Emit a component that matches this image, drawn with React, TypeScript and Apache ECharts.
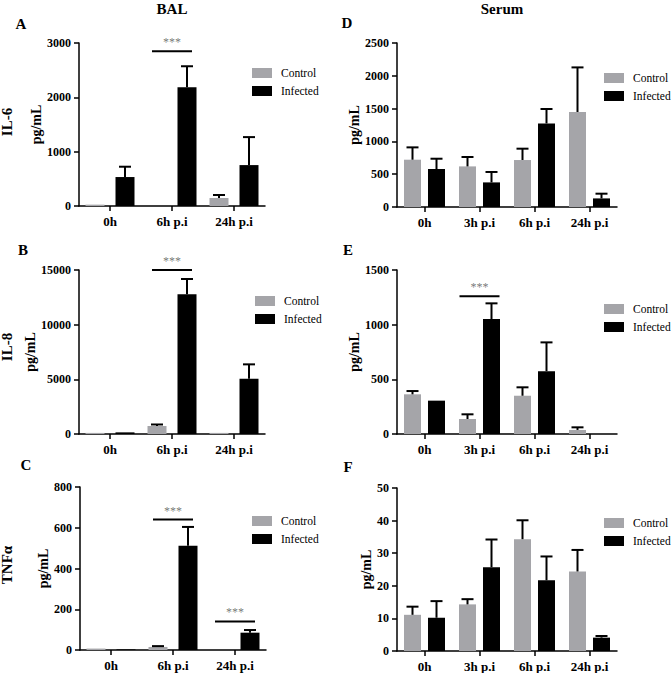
import React, { useEffect, useRef } from "react";
import * as echarts from "echarts";

const FONT = "'Liberation Serif', 'Times New Roman', serif";
const GRAY = "#a5a5a9";
const STAR = "#555555";

// ---- categories ----
const balCategories = ["0h", "6h p.i", "24h p.i"];
const serumCategories = ["0h", "3h p.i", "6h p.i", "24h p.i"];

// ---- BAL IL-6 (A) ----
const il6Control = [25, 0, 147];
const il6ControlErr = [25, 0, 202];
const il6Infected = [533, 2186, 753];
const il6InfectedErr = [723, 2572, 1268];

// ---- BAL IL-8 (B) ----
const il8Control = [100, 730, 100];
const il8ControlErr = [100, 870, 100];
const il8Infected = [150, 12775, 5060];
const il8InfectedErr = [150, 14177, 6370];

// ---- BAL TNFa (C) ----
const tnfControl = [7, 15, 0];
const tnfControlErr = [7, 19, 0];
const tnfInfected = [3, 512, 85];
const tnfInfectedErr = [3, 604, 98];

// ---- Serum IL-6 (D) ----
const sIl6Control = [721, 619, 716, 1448];
const sIl6ControlErr = [909, 762, 889, 2128];
const sIl6Infected = [579, 375, 1274, 131];
const sIl6InfectedErr = [736, 534, 1494, 203];

// ---- Serum IL-8 (E) ----
const sIl8Control = [363, 137, 350, 37];
const sIl8ControlErr = [393, 180, 427, 61];
const sIl8Infected = [305, 1052, 575, 0];
const sIl8InfectedErr = [305, 1195, 838, 0];

// ---- Serum TNFa (F) ----
const sTnfControl = [11.1, 14.3, 34.3, 24.4];
const sTnfControlErr = [13.6, 15.9, 40.1, 31.0];
const sTnfInfected = [10.2, 25.7, 21.7, 4.1];
const sTnfInfectedErr = [15.3, 34.2, 29.0, 4.6];

// ---- significance markers: [category index, level] ----
const sigA = [[1, 2850]];
const sigB = [[1, 15000]];
const sigC = [[1, 640], [2, 140]];
const sigD: number[][] = [];
const sigE = [[1, 1260]];
const sigF: number[][] = [];

// ---- y axis ranges ----
const yMax = [3000, 15000, 800, 2500, 1500, 50];
const yInterval = [1000, 5000, 200, 500, 500, 10];

const panels = [
  { cats: balCategories, c: il6Control, ce: il6ControlErr, i: il6Infected, ie: il6InfectedErr, sig: sigA,
    grid: { left: 79, top: 43, width: 186, height: 163 }, barW: 19, off: 15, nameGap: 32, legend: { left: 252, top: 67 } },
  { cats: balCategories, c: il8Control, ce: il8ControlErr, i: il8Infected, ie: il8InfectedErr, sig: sigB,
    grid: { left: 79, top: 270, width: 186, height: 164 }, barW: 19, off: 15, nameGap: 34, legend: { left: 255, top: 295 } },
  { cats: balCategories, c: tnfControl, ce: tnfControlErr, i: tnfInfected, ie: tnfInfectedErr, sig: sigC,
    grid: { left: 80, top: 487, width: 186, height: 163 }, barW: 19, off: 15, nameGap: 27, legend: { left: 252, top: 515 } },
  { cats: serumCategories, c: sIl6Control, ce: sIl6ControlErr, i: sIl6Infected, ie: sIl6InfectedErr, sig: sigD,
    grid: { left: 397, top: 43, width: 220, height: 164 }, barW: 17, off: 12, nameGap: 32, legend: { left: 604, top: 72 } },
  { cats: serumCategories, c: sIl8Control, ce: sIl8ControlErr, i: sIl8Infected, ie: sIl8InfectedErr, sig: sigE,
    grid: { left: 397, top: 270, width: 220, height: 164 }, barW: 17, off: 12, nameGap: 30, legend: { left: 604, top: 303 } },
  { cats: serumCategories, c: sTnfControl, ce: sTnfControlErr, i: sTnfInfected, ie: sTnfInfectedErr, sig: sigF,
    grid: { left: 397, top: 488, width: 220, height: 163 }, barW: 17, off: 12, nameGap: 20, legend: { left: 604, top: 517 } },
];

function errRender(offset: number, capHalf: number) {
  return (_params: any, api: any) => {
    const cat = api.value(0);
    const val = api.value(1);
    const hi = api.value(2);
    if (!(hi > val)) return { type: "group", children: [] };
    const p0 = api.coord([cat, val]);
    const p1 = api.coord([cat, hi]);
    const x = p0[0] + offset;
    const st = { stroke: "#000", lineWidth: 2 };
    return {
      type: "group",
      children: [
        { type: "line", shape: { x1: x, y1: p0[1], x2: x, y2: p1[1] }, style: st },
        { type: "line", shape: { x1: x - capHalf, y1: p1[1], x2: x + capHalf, y2: p1[1] }, style: st },
      ],
    };
  };
}

function sigLineRender() {
  return (_params: any, api: any) => {
    const p = api.coord([api.value(0), api.value(1)]);
    return {
      type: "line",
      shape: { x1: p[0] - 20, y1: p[1], x2: p[0] + 20, y2: p[1] },
      style: { stroke: "#000", lineWidth: 2 },
    };
  };
}

function buildOption() {
  const grid: any[] = [];
  const xAxis: any[] = [];
  const yAxis: any[] = [];
  const series: any[] = [];
  const legend: any[] = [];
  const axisLineStyle = { color: "#000", width: 1.5 };

  panels.forEach((p, k) => {
    grid.push({ ...p.grid, containLabel: false });
    xAxis.push({
      type: "category", gridIndex: k, data: p.cats,
      axisLine: { show: true, lineStyle: axisLineStyle },
      axisTick: { show: true, alignWithLabel: true, length: 5, lineStyle: axisLineStyle },
      axisLabel: { fontFamily: FONT, fontWeight: "bold", fontSize: 13, color: "#000", margin: 9 },
      splitLine: { show: false },
    });
    yAxis.push({
      type: "value", gridIndex: k, min: 0, max: yMax[k], interval: yInterval[k],
      name: "pg/mL", nameLocation: "middle", nameGap: p.nameGap,
      nameTextStyle: { fontFamily: FONT, fontWeight: "bold", fontSize: 14, color: "#000" },
      axisLine: { show: true, lineStyle: axisLineStyle },
      axisTick: { show: true, length: 5, lineStyle: axisLineStyle },
      axisLabel: {
        fontFamily: FONT, fontWeight: "bold", fontSize: 12, color: "#000", margin: 8,
        formatter: (v: number) => String(v),
      },
      splitLine: { show: false },
    });
    const gap = ((2 * p.off - p.barW) / p.barW) * 100 + "%";
    series.push({
      name: "Control", type: "bar", xAxisIndex: k, yAxisIndex: k, data: p.c,
      barWidth: p.barW, barGap: gap, itemStyle: { color: GRAY },
    });
    series.push({
      name: "Infected", type: "bar", xAxisIndex: k, yAxisIndex: k, data: p.i,
      barWidth: p.barW, barGap: gap, itemStyle: { color: "#000" },
    });
    series.push({
      name: "errC" + k, type: "custom", xAxisIndex: k, yAxisIndex: k, z: 5,
      itemStyle: { color: "#000" },
      data: p.c.map((v, j) => [j, v, p.ce[j]]),
      encode: { x: 0, y: 1 }, renderItem: errRender(-p.off, 6),
    });
    series.push({
      name: "errI" + k, type: "custom", xAxisIndex: k, yAxisIndex: k, z: 5,
      itemStyle: { color: "#000" },
      data: p.i.map((v, j) => [j, v, p.ie[j]]),
      encode: { x: 0, y: 1 }, renderItem: errRender(p.off, 6),
    });
    if (p.sig.length) {
      series.push({
        name: "sigLine" + k, type: "custom", xAxisIndex: k, yAxisIndex: k, z: 6,
        itemStyle: { color: "#000" },
        data: p.sig, encode: { x: 0, y: 1 }, renderItem: sigLineRender(), clip: false,
      });
      series.push({
        name: "sigStar" + k, type: "scatter", xAxisIndex: k, yAxisIndex: k, z: 6,
        data: p.sig, symbolSize: 0, itemStyle: { color: STAR }, silent: true,
        label: {
          show: true, position: "top", distance: 3, formatter: "***",
          color: STAR, fontFamily: FONT, fontSize: 12,
        },
      });
    }
    legend.push({
      orient: "vertical", left: p.legend.left, top: p.legend.top, padding: 0,
      itemWidth: 20, itemHeight: 10, itemGap: 6, icon: "rect", selectedMode: false,
      data: ["Control", "Infected"],
      textStyle: { fontFamily: FONT, fontSize: 11.5, color: "#000", padding: [0, 0, 0, 4] },
    });
  });

  const bold = (t: string, x: number, y: number, rot = 0, size = 15) => ({
    type: "text", x, y, rotation: rot,
    style: {
      text: t, fontFamily: FONT, fontWeight: "bold", fontSize: size, fill: "#000",
      align: "center", verticalAlign: "middle",
    },
  });

  const graphic = [
    bold("BAL", 172, 9),
    bold("Serum", 502, 9),
    bold("A", 21, 24),
    bold("B", 23, 250),
    bold("C", 26, 465),
    bold("D", 347, 23),
    bold("E", 348, 250),
    bold("F", 348, 467),
    bold("IL-6", 7, 122, Math.PI / 2),
    bold("IL-8", 7, 347, Math.PI / 2),
    bold("TNFα", 7, 565, Math.PI / 2),
  ];

  return {
    animation: false,
    backgroundColor: "#fff",
    textStyle: { fontFamily: FONT },
    grid, xAxis, yAxis, series, legend, graphic,
  };
}

export default function App() {
  const ref = useRef<HTMLDivElement>(null);
  useEffect(() => {
    if (!ref.current) return;
    const chart = echarts.init(ref.current, undefined, { renderer: "svg" });
    chart.setOption(buildOption() as any);
    return () => chart.dispose();
  }, []);
  return (
    <div
      ref={ref}
      style={{ position: "fixed", left: 0, top: 0, width: 671, height: 673, background: "#fff" }}
    />
  );
}
